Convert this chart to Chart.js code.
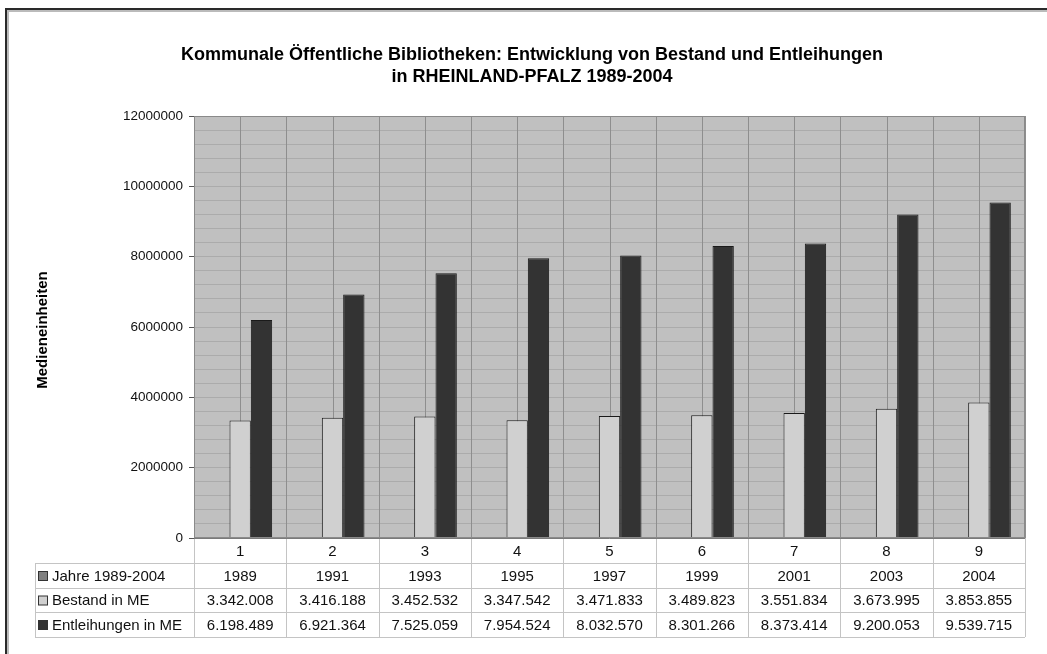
<!DOCTYPE html>
<html>
<head>
<meta charset="utf-8">
<script src="https://cdn.jsdelivr.net/npm/chart.js@4/dist/chart.umd.min.js"></script>
<style>
html,body{margin:0;padding:0;background:#fff;}
#wrap{width:1047px;height:654px;position:relative;}
</style>
</head>
<body>
<div id="wrap"><canvas id="c" width="1047" height="654"></canvas></div>
<script>
const categories = ['1','2','3','4','5','6','7','8','9'];
const jahre = [1989,1991,1993,1995,1997,1999,2001,2003,2004];
const bestand = [3342008,3416188,3452532,3347542,3471833,3489823,3551834,3673995,3853855];
const entleihungen = [6198489,6921364,7525059,7954524,8032570,8301266,8373414,9200053,9539715];
const seriesNames = ['Jahre 1989-2004','Bestand in ME','Entleihungen in ME'];
const seriesColors = ['#808080','#d0d0d0','#333333'];
const titleLines = ['Kommunale Öffentliche Bibliotheken: Entwicklung von Bestand und Entleihungen','in RHEINLAND-PFALZ 1989-2004'];
const yTitle = 'Medieneinheiten';

const FONT = '"Liberation Sans", Arial, sans-serif';

function fmtDE(v){
  return String(v).replace(/\B(?=(\d{3})+(?!\d))/g,'.');
}

const decor = {
  id:'decor',
  beforeDraw(chart){
    const c = chart.ctx, a = chart.chartArea;
    c.save();
    // outer frame
    c.fillStyle = '#bbbbbb';
    c.fillRect(5,8,1042,4);
    c.fillRect(5,8,4,646);
    c.fillStyle = '#2a2a2a';
    c.fillRect(5,8,1042,2);
    c.fillRect(5,8,2,646);
    // plot background
    c.fillStyle = '#c0c0c0';
    c.fillRect(a.left,a.top,a.right-a.left,a.bottom-a.top);
    // title
    c.fillStyle = '#000';
    c.textAlign = 'center';
    c.textBaseline = 'middle';
    c.font = 'bold 18px ' + FONT;
    c.fillText(titleLines[0], 532, 55);
    c.fillText(titleLines[1], 532, 77);
    // y title
    c.save();
    c.translate(43, 330);
    c.rotate(-Math.PI/2);
    c.font = 'bold 15px ' + FONT;
    c.fillText(yTitle, 0, 0);
    c.restore();
    c.restore();
  },
  beforeDatasetsDraw(chart){
    const c = chart.ctx, a = chart.chartArea, x = chart.scales.x;
    c.save();
    c.strokeStyle = '#8e8e8e';
    c.lineWidth = 1;
    const w = (a.right-a.left)/categories.length;
    c.beginPath();
    for(let i=0;i<categories.length;i++){
      const pc = Math.round(x.getPixelForValue(i))+0.5;
      c.moveTo(pc,a.top); c.lineTo(pc,a.bottom);
      const pb = Math.round(x.getPixelForValue(i) + w/2)+0.5;
      c.moveTo(pb,a.top); c.lineTo(pb,a.bottom);
    }
    c.stroke();
    c.restore();
  },
  afterDraw(chart){
    const c = chart.ctx, a = chart.chartArea, x = chart.scales.x;
    c.save();
    // plot border
    c.strokeStyle = '#8a8a8a';
    c.lineWidth = 1;
    c.strokeRect(a.left+0.5,a.top+0.5,a.right-a.left-1,a.bottom-a.top-1);
    // table
    const rowTops = [a.bottom, 563, 588, 612, 637];
    const tLeft = 35;
    c.strokeStyle = '#c4c4c4';
    c.beginPath();
    for(let r=1;r<rowTops.length;r++){
      const y = rowTops[r]+0.5;
      c.moveTo(tLeft,y); c.lineTo(a.right,y);
    }
    const w = (a.right-a.left)/categories.length;
    for(let i=0;i<=categories.length;i++){
      const px = Math.round(a.left + i*w)+0.5;
      c.moveTo(px,a.bottom); c.lineTo(px,rowTops[4]);
    }
    c.moveTo(tLeft+0.5,rowTops[1]); c.lineTo(tLeft+0.5,rowTops[4]);
    c.stroke();
    // bottom axis line
    c.strokeStyle = '#7a7a7a';
    c.beginPath(); c.moveTo(a.left,a.bottom+0.5); c.lineTo(a.right,a.bottom+0.5); c.stroke();

    const rows = [jahre.map(String), bestand.map(fmtDE), entleihungen.map(fmtDE)];
    c.font = '15px ' + FONT;
    c.textBaseline = 'middle';
    for(let r=0;r<3;r++){
      const yc = (rowTops[r+1]+rowTops[r+2])/2 + 1;
      c.fillStyle = seriesColors[r];
      c.fillRect(38.5, yc-5, 9, 9);
      c.strokeStyle = '#333';
      c.strokeRect(38.5, yc-5, 9, 9);
      c.fillStyle = '#111';
      c.textAlign = 'left';
      c.fillText(seriesNames[r], 52, yc);
      c.textAlign = 'center';
      for(let i=0;i<categories.length;i++){
        c.fillText(rows[r][i], x.getPixelForValue(i), yc);
      }
    }
    c.restore();
  }
};

new Chart(document.getElementById('c'), {
  type:'bar',
  data:{
    labels: categories,
    datasets:[
      {label:seriesNames[0], data:jahre, backgroundColor:seriesColors[0], borderColor:'#222', borderWidth:0},
      {label:seriesNames[1], data:bestand, backgroundColor:seriesColors[1], borderColor:'#1a1a1a', borderWidth:1},
      {label:seriesNames[2], data:entleihungen, backgroundColor:seriesColors[2], borderColor:'#1a1a1a', borderWidth:1}
    ]
  },
  options:{
    responsive:false,
    animation:false,
    events:[],
    devicePixelRatio:1,
    layout:{padding:{left:0,right:22,top:116,bottom:91}},
    datasets:{bar:{categoryPercentage:0.693, barPercentage:1}},
    plugins:{legend:{display:false}, tooltip:{enabled:false}, title:{display:false}},
    scales:{
      x:{
        grid:{display:false, drawTicks:false},
        border:{display:false},
        ticks:{font:{family:FONT,size:15}, color:'#111', padding:5},
        afterFit(s){ s.height = 25; }
      },
      y:{
        min:0, max:12000000,
        border:{display:false},
        grid:{
          color(ctx){ return '#ababab'; },
          tickColor(ctx){ return (ctx.tick && ctx.tick.value % 2000000 === 0) ? '#555' : 'rgba(0,0,0,0)'; },
          tickLength:5
        },
        ticks:{
          stepSize:400000,
          autoSkip:false,
          font:{family:FONT,size:13.5}, color:'#111', padding:6,
          callback(v){ return v % 2000000 === 0 ? String(v) : ''; }
        },
        afterFit(s){ s.width = 194; }
      }
    }
  },
  plugins:[decor]
});
</script>
</body>
</html>
